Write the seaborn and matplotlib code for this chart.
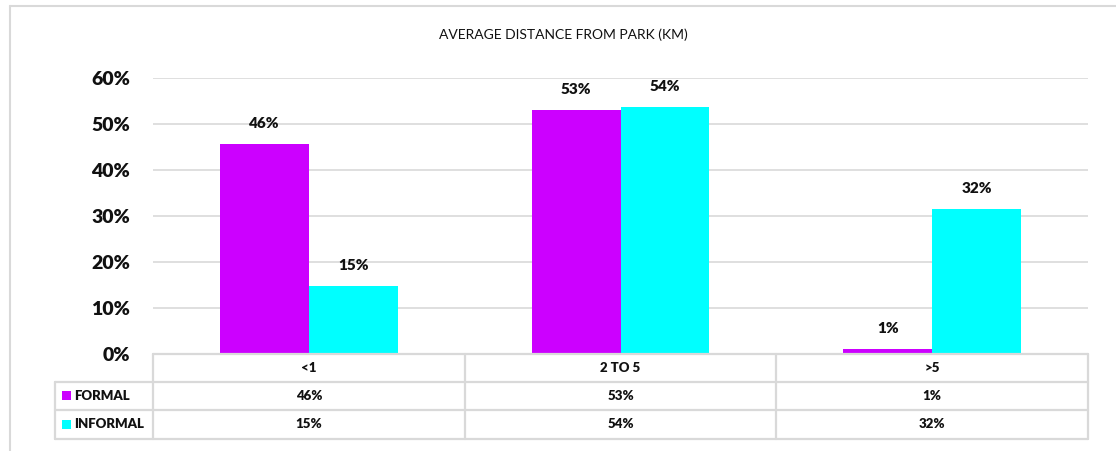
import matplotlib
matplotlib.use("Agg")
import matplotlib.pyplot as plt
from matplotlib.lines import Line2D
from matplotlib.patches import Rectangle
import pandas as pd
import seaborn as sns

# Survey data: share of respondents by distance band
categories = ["<1", "2 TO 5", ">5"]
formal = [0.457, 0.530, 0.011]
informal = [0.148, 0.537, 0.316]
series_names = ["FORMAL", "INFORMAL"]
series_colors = ["#CC00FF", "#00FFFF"]
y_ticks = [0.0, 0.1, 0.2, 0.3, 0.4, 0.5, 0.6]
title = "AVERAGE DISTANCE FROM PARK (KM)"

df = pd.DataFrame({
    "distance": categories * 2,
    "share": formal + informal,
    "group": [series_names[0]] * len(categories) + [series_names[1]] * len(categories),
})

sns.set_theme(style="white")
plt.rcParams["font.family"] = ["Lato", "DejaVu Sans"]
BOLD = 800
INK = "#111111"

W, H = 1116, 451
fig = plt.figure(figsize=(W / 100, H / 100), dpi=100)
ax = fig.add_axes([153 / W, 1 - 354 / H, (1088 - 153) / W, (354 - 78) / H])

sns.barplot(data=df, x="distance", y="share", hue="group", order=categories,
            hue_order=series_names, palette=dict(zip(series_names, series_colors)),
            width=0.571, saturation=1, legend=False, ax=ax, edgecolor="none")

ax.set_xlim(-0.5, len(categories) - 0.5)
ax.set_ylim(0, 0.6)
ax.set_yticks(y_ticks)
ax.set_yticklabels([f"{t:.0%}" for t in y_ticks], fontsize=14, fontweight=BOLD, color=INK)
ax.tick_params(axis="y", length=0, pad=16.5)
ax.set_xticks([])
ax.set_xlabel("")
ax.set_ylabel("")
ax.grid(axis="y", color="#D9D9D9", linewidth=1.2)
ax.set_axisbelow(True)
for s in ax.spines.values():
    s.set_visible(False)

# Value labels above the bars
for cont, vals in zip(ax.containers, [formal, informal]):
    for bar, v in zip(cont, vals):
        ax.annotate(f"{v:.0%}", (bar.get_x() + bar.get_width() / 2, bar.get_height()),
                    xytext=(0, 10), textcoords="offset points", ha="center", va="bottom",
                    fontsize=11, fontweight=BOLD, color=INK)

# Data table beneath the plot (x in data units, y in axes units)
tr = ax.get_xaxis_transform()
axh = 354 - 78
def ay(py):
    return (354 - py) / axh

px_per_unit = (1088 - 153) / len(categories)
x_left = -0.5 + (55 - 153) / px_per_unit
x_right = len(categories) - 0.5
line_kw = dict(color="#D9D9D9", linewidth=1.6, transform=tr, clip_on=False)

rows_y = [354, 381.5, 410, 439]
ax.add_line(Line2D([-0.5, x_right], [ay(rows_y[0])] * 2, **line_kw))
for py in rows_y[1:]:
    ax.add_line(Line2D([x_left, x_right], [ay(py)] * 2, **line_kw))
for i in range(len(categories) + 1):
    ax.add_line(Line2D([i - 0.5] * 2, [ay(354), ay(439)], **line_kw))
ax.add_line(Line2D([x_left] * 2, [ay(381.5), ay(439)], **line_kw))

txt_kw = dict(transform=tr, ha="center", va="center", fontsize=9.5,
              fontweight=BOLD, color=INK, clip_on=False)
centers_y = [(rows_y[k] + rows_y[k + 1]) / 2 for k in range(3)]
for i, cat in enumerate(categories):
    ax.text(i, ay(centers_y[0]), cat, **txt_kw)
    ax.text(i, ay(centers_y[1]), f"{formal[i]:.0%}", **txt_kw)
    ax.text(i, ay(centers_y[2]), f"{informal[i]:.0%}", **txt_kw)

sw = 9 / px_per_unit
for name, col, cy in zip(series_names, series_colors, centers_y[1:]):
    x0 = -0.5 + (62 - 153) / px_per_unit
    ax.add_patch(Rectangle((x0, ay(cy + 4.5)), sw, 9 / axh, transform=tr,
                           facecolor=col, edgecolor="none", clip_on=False))
    ax.text(x0 + sw + 3 / px_per_unit, ay(cy), name, transform=tr, ha="left", va="center",
            fontsize=9.5, fontweight=BOLD, color=INK, clip_on=False)

fig.text(563 / W, 1 - 35 / H, title, ha="center", va="center", fontsize=10, color=INK)

# Chart frame (top and left edges)
fig.add_artist(Line2D([10 / W, 1.0], [1 - 5.5 / H] * 2, transform=fig.transFigure,
                      color="#D9D9D9", linewidth=1.5))
fig.add_artist(Line2D([10 / W] * 2, [0, 1 - 5.5 / H], transform=fig.transFigure,
                      color="#D9D9D9", linewidth=1.5))

fig.savefig("out.png", dpi=100, facecolor="white")
